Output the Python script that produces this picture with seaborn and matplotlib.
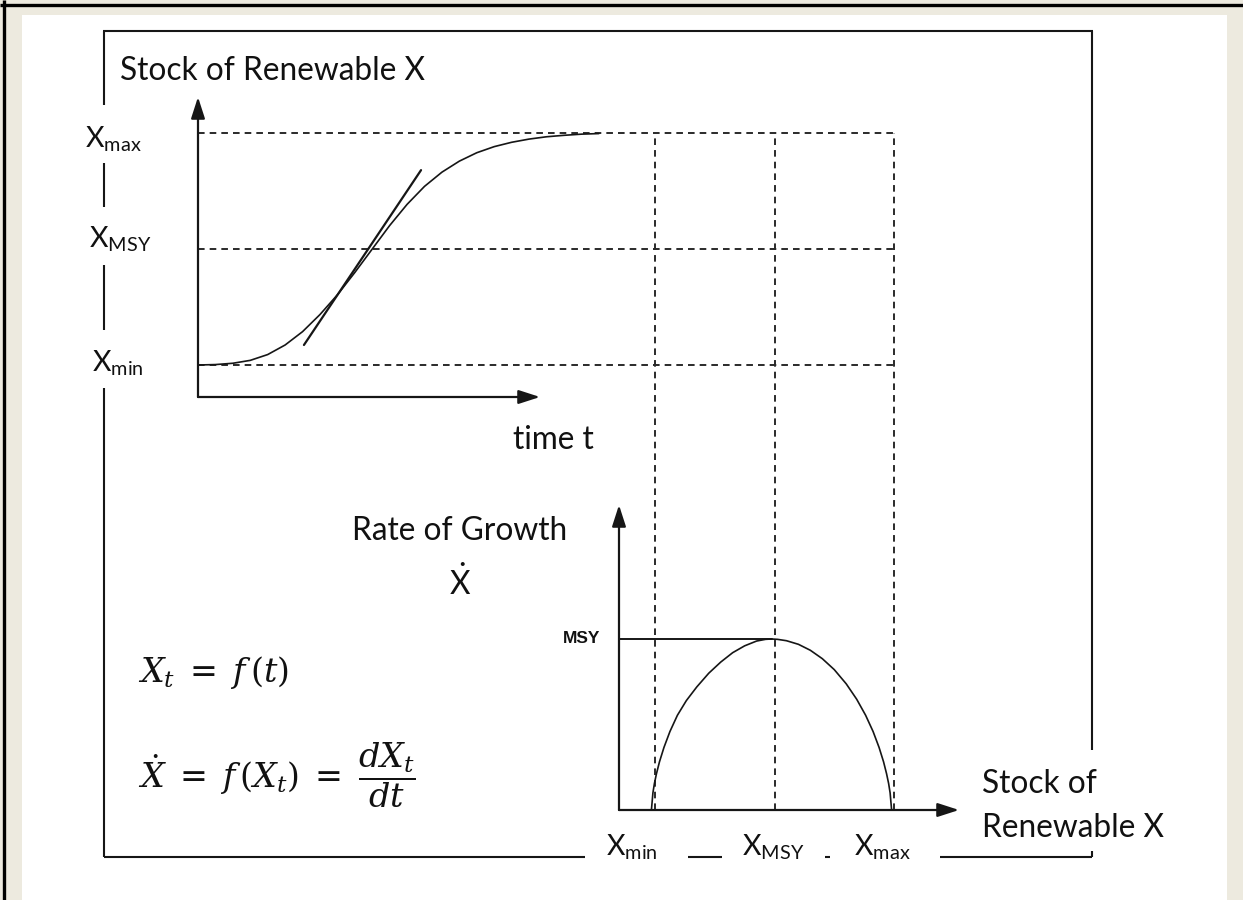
import matplotlib
matplotlib.use("Agg")
import matplotlib.pyplot as plt
from matplotlib.patches import Rectangle
import pandas as pd
import seaborn as sns

# ---------------- data ----------------
stock_levels = [20, 60, 100]                 # X_min, X_MSY, X_max
level_subs = ["min", "MSY", "max"]
msy_rate = 1.0

time_t = [0, 0.5, 1, 1.5, 2, 2.5, 3, 3.5, 4, 4.5, 5, 5.5, 6, 6.5, 7, 7.5,
          8, 8.5, 9, 9.5, 10, 10.5, 11, 11.5]
stock_x = [20.0, 20.15, 20.6, 21.6, 23.6, 26.9, 31.5, 37.4, 44.2, 51.9, 60.0,
           68.1, 75.4, 81.6, 86.5, 90.3, 93.2, 95.3, 96.8, 97.9, 98.7, 99.2,
           99.6, 99.8]

tangent_t = [3.04, 6.40]
tangent_x = [26.9, 87.2]

growth_stock = [18.8, 19.3, 19.8, 20.5, 21.5, 23, 25, 27.5, 30.5, 34, 38, 42,
                46, 50, 54, 57, 59, 61, 64, 68, 72, 76, 80, 84, 87.5, 90.5,
                93, 95, 96.5, 97.5, 98.2, 98.7, 99.2]
growth_rate = [0, 0.10, 0.155, 0.213, 0.282, 0.366, 0.459, 0.554, 0.64, 0.72,
               0.80, 0.865, 0.92, 0.96, 0.988, 0.998, 1.0, 0.998, 0.99, 0.969,
               0.934, 0.885, 0.821, 0.738, 0.648, 0.554, 0.459, 0.366, 0.282,
               0.213, 0.155, 0.10, 0]

# ---------------- style ----------------
sns.set_theme(style="white")
plt.rcParams["font.family"] = ["Lato", "DejaVu Sans"]
plt.rcParams["mathtext.fontset"] = "custom"
plt.rcParams["mathtext.rm"] = "Lato"
plt.rcParams["mathtext.it"] = "Lato:italic"
plt.rcParams["mathtext.bf"] = "Lato:bold"

INK = "#161616"
DASH = "#2a2a2a"
BEIGE = "#edeadf"

W, H = 1243, 900
fig = plt.figure(figsize=(W / 100, H / 100), dpi=100, facecolor="white")


def px_axes(l, t, r, b, z):
    ax = fig.add_axes([l / W, 1 - b / H, (r - l) / W, (b - t) / H])
    ax.set_zorder(z)
    ax.patch.set_alpha(0)
    return ax


# background / overlay axes in pixel units
ax0 = fig.add_axes([0, 0, 1, 1])
ax0.set_xlim(0, W)
ax0.set_ylim(H, 0)
ax0.set_axis_off()
ax0.set_zorder(0)
ax0.add_patch(Rectangle((0, 0), 22, H, color=BEIGE, lw=0))
ax0.add_patch(Rectangle((0, 0), W, 15, color=BEIGE, lw=0))
ax0.add_patch(Rectangle((1227, 0), W - 1227, H, color=BEIGE, lw=0))
ax0.plot([0, W], [4.5, 4.5], color="black", lw=2.4, solid_capstyle="butt")
ax0.plot([4.5, 4.5], [0, H], color="black", lw=2.4, solid_capstyle="butt")

# outer frame (with gaps for labels)
frame_kw = dict(color=INK, lw=1.5, solid_capstyle="butt")
ax0.plot([103, 1093], [31, 31], **frame_kw)
for y0, y1 in [(31, 105), (163, 207), (265, 330), (388, 857)]:
    ax0.plot([104, 104], [y0, y1], **frame_kw)
for x0, x1 in [(104, 585), (688, 722), (825, 830), (940, 1092)]:
    ax0.plot([x0, x1], [857, 857], **frame_kw)
for y0, y1 in [(31, 750), (851, 857)]:
    ax0.plot([1092, 1092], [y0, y1], **frame_kw)

# ---------------- top panel: stock over time ----------------
ax1 = px_axes(198, 97, 895, 397, 2)
k1 = (365 - 133) / (stock_levels[2] - stock_levels[0])
ax1.set_xlim(0, 20)
ax1.set_ylim(stock_levels[0] - (397 - 365) / k1, stock_levels[2] + (133 - 97) / k1)
ax1.set_axis_off()

dash = (0, (3.4, 2.6))
for lv in stock_levels:
    ax1.plot([0, 20], [lv, lv], color=DASH, lw=1.4, ls=dash, clip_on=False)

df1 = pd.DataFrame({"t": time_t, "X": stock_x})
sns.lineplot(data=df1, x="t", y="X", ax=ax1, color=INK, lw=1.2,
             sort=False, estimator=None)
sns.lineplot(x=tangent_t, y=tangent_x, ax=ax1, color=INK, lw=1.6,
             sort=False, estimator=None)

arrow = dict(arrowstyle="-|>,head_length=1.3,head_width=0.42", color=INK,
             lw=1.6, shrinkA=0, shrinkB=0, mutation_scale=10)
ax1.annotate("", xy=(0, 1), xytext=(0, 0), xycoords="axes fraction",
             arrowprops=arrow)
ax1.annotate("", xy=((540 - 198) / (895 - 198), 0), xytext=(0, 0),
             xycoords="axes fraction", arrowprops=arrow)

# ---------------- bottom panel: growth vs stock ----------------
ax2 = px_axes(619, 133, 959, 810, 3)
k2 = (894 - 655) / (stock_levels[2] - stock_levels[0])
ax2.set_xlim(stock_levels[0] - (655 - 619) / k2, stock_levels[2] + (959 - 894) / k2)
g_top = (810 - 133) / (810 - 639) * msy_rate
ax2.set_ylim(0, g_top)
ax2.set_axis_off()

for lv in stock_levels:
    ax2.plot([lv, lv], [0, g_top], color=DASH, lw=1.4, ls=dash, clip_on=False)

ax2.plot([ax2.get_xlim()[0], growth_stock[growth_rate.index(max(growth_rate))]],
         [msy_rate, msy_rate], color=INK, lw=1.4)
df2 = pd.DataFrame({"X": growth_stock, "Xdot": growth_rate})
sns.lineplot(data=df2, x="X", y="Xdot", ax=ax2, color=INK, lw=1.2,
             sort=False, estimator=None)

ax2.annotate("", xy=(0, (810 - 505) / (810 - 133)), xytext=(0, 0),
             xycoords="axes fraction", arrowprops=arrow)
ax2.annotate("", xy=(1, 0), xytext=(0, 0), xycoords="axes fraction",
             arrowprops=arrow)

# ---------------- text ----------------
T = dict(color="#111111", va="baseline", ha="left", zorder=5)
ax0.text(120, 80, "Stock of Renewable X", fontsize=22.8, **T)
for (x, y), sub in zip([(92, 372), (89, 248), (85, 147)], level_subs):
    ax0.text(x, y, "X$_{\\mathrm{%s}}$" % sub, fontsize=20.5, **T)
for x, sub in zip([606, 742, 854], level_subs):
    ax0.text(x, 855, "X$_{\\mathrm{%s}}$" % sub, fontsize=20.5, **T)
ax0.text(513, 449, "time t", fontsize=22.8, **T)
ax0.text(352, 540, "Rate of Growth", fontsize=22.8, **T)
ax0.text(449, 595, r"$\dot{\mathrm{X}}$", fontsize=22.8, **T)
ax0.text(563, 643, "MSY", fontsize=12.5, fontweight="bold",
         family=["Liberation Sans", "DejaVu Sans"], **T)
ax0.text(982, 793, "Stock of", fontsize=22.8, **T)
ax0.text(982, 837, "Renewable X", fontsize=22.8, **T)
ax0.text(138, 682, r"$X_t\;=\;f\,(t)$", fontsize=24,
         math_fontfamily="dejavuserif", **T)
ax0.text(138, 788, r"$\dot{X}\;=\;f\,(X_t)\;=\;\dfrac{dX_t}{dt}$", fontsize=24,
         math_fontfamily="dejavuserif", **T)

fig.savefig("out.png", dpi=100, facecolor="white")
